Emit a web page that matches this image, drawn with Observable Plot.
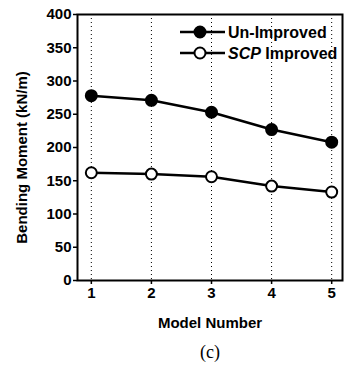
<!DOCTYPE html>
<html><head><meta charset="utf-8">
<script src="https://cdn.jsdelivr.net/npm/d3@7"></script>
<script src="https://cdn.jsdelivr.net/npm/@observablehq/plot@0.6"></script>
<style>body{margin:0;background:white;} svg{display:block;}</style>
</head><body><div id="chart"></div>
<script>
const modelNumbers = [1, 2, 3, 4, 5];
const unImproved = [278, 271, 253, 227, 208];
const scpImproved = [162, 160, 156, 142, 133];
const yTicks = [0, 50, 100, 150, 200, 250, 300, 350, 400];
const seriesNames = ["Un-Improved", "SCP Improved"];

const data = [
  ...modelNumbers.map((m, i) => ({model: m, value: unImproved[i], series: seriesNames[0]})),
  ...modelNumbers.map((m, i) => ({model: m, value: scpImproved[i], series: seriesNames[1]}))
];

const font = "'Liberation Sans', Arial, sans-serif";
const chart = Plot.plot({
  width: 346, height: 376,
  marginLeft: 77, marginRight: 4, marginTop: 14, marginBottom: 96,
  style: {fontFamily: font, fontSize: "15px", fontWeight: "bold", background: "white", color: "black"},
  x: {domain: [0.77, 5.18]},
  y: {domain: [0, 400]},
  marks: [
    Plot.ruleX(modelNumbers, {stroke: "black", strokeDasharray: "1,3", strokeWidth: 1}),
    Plot.frame({stroke: "black", strokeWidth: 2}),
    Plot.axisX({ticks: modelNumbers, tickFormat: d => String(d), tickSize: 4, tickPadding: 3, label: null, fontSize: 15, strokeWidth: 1.5}),
    Plot.axisY({ticks: yTicks, tickFormat: d => String(d), tickSize: 4, tickPadding: 2, label: null, fontSize: 15, strokeWidth: 1.5}),
    Plot.line(data, {x: "model", y: "value", z: "series", stroke: "black", strokeWidth: 2.5}),
    Plot.dot(data.filter(d => d.series === seriesNames[0]), {x: "model", y: "value", r: 5.5, fill: "black", stroke: "black", strokeWidth: 2}),
    Plot.dot(data.filter(d => d.series === seriesNames[1]), {x: "model", y: "value", r: 5.5, fill: "white", stroke: "black", strokeWidth: 2}),
    Plot.text(["Model Number"], {frameAnchor: "bottom", dy: 47, fontSize: 15, textAnchor: "middle"}),
    Plot.text(["Bending Moment (kN/m)"], {frameAnchor: "left", rotate: -90, dx: -55, dy: 10, fontSize: 15, textAnchor: "middle"}),
    Plot.text(["(c)"], {frameAnchor: "bottom", dy: 77, fontSize: 18, fontWeight: "normal", fontFamily: "'Liberation Serif', 'Times New Roman', serif"})
  ]
});
document.getElementById("chart").append(chart);

// Legend (inside plot, top-right)
const svg = d3.select(chart);
const leg = svg.append("g").attr("font-family", font).attr("font-size", 16)
  .attr("font-weight", "bold").attr("text-anchor", "start");
seriesNames.forEach((name, i) => {
  const y = 32 + i * 21;
  leg.append("line").attr("x1", 180).attr("x2", 225).attr("y1", y).attr("y2", y)
    .attr("stroke", "black").attr("stroke-width", 2.5);
  leg.append("circle").attr("cx", 200).attr("cy", y).attr("r", 5.5)
    .attr("fill", i === 0 ? "black" : "white").attr("stroke", "black").attr("stroke-width", 2);
  const t = leg.append("text").attr("x", 228).attr("y", y).attr("dy", "0.35em");
  if (i === 1) {
    t.append("tspan").attr("font-style", "italic").text("SCP");
    t.append("tspan").text(" Improved");
  } else {
    t.text(name);
  }
});
</script>
</body></html>
